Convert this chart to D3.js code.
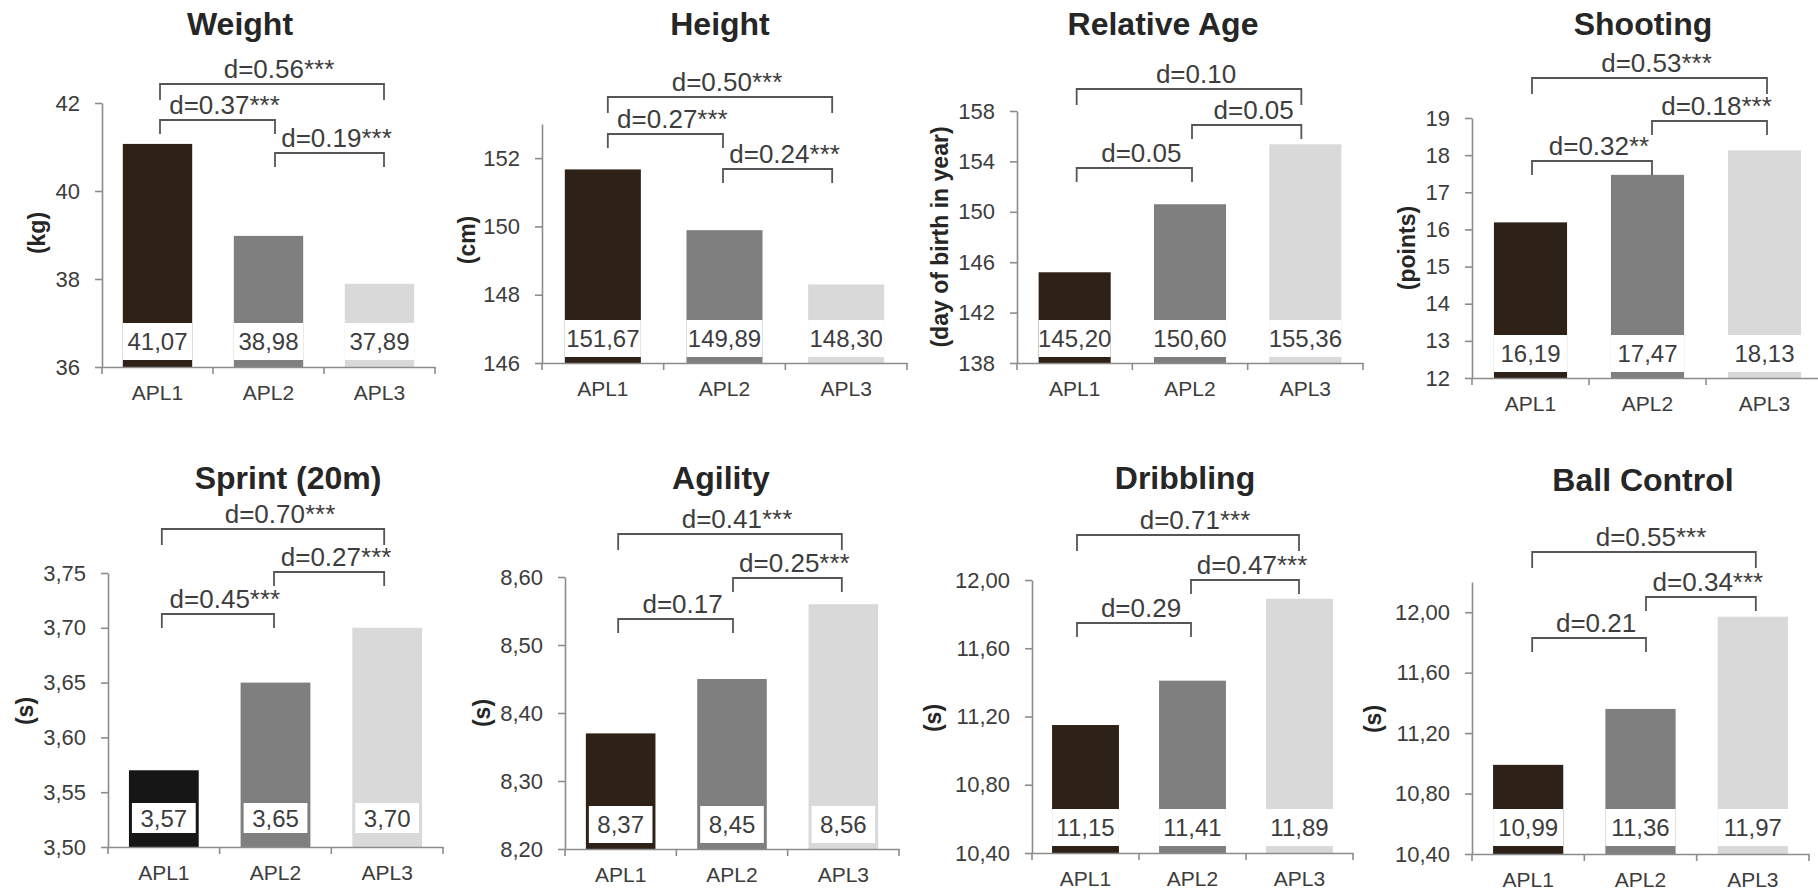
<!DOCTYPE html>
<html>
<head>
<meta charset="utf-8">
<script src="https://cdn.jsdelivr.net/npm/d3@7"></script>
<style>
  body { margin: 0; background: #fff; }
  svg text { font-family: "Liberation Sans", Arial, sans-serif; }
</style>
</head>
<body>
<div id="wrapper"></div>
<script>
// ---- data ----
const groups = ["APL1", "APL2", "APL3"];

const titles = ["Weight", "Height", "Relative Age", "Shooting",
                "Sprint (20m)", "Agility", "Dribbling", "Ball Control"];
const units = ["(kg)", "(cm)", "(day of birth in year)", "(points)",
               "(s)", "(s)", "(s)", "(s)"];

const weightValues = [41.07, 38.98, 37.89];
const heightValues = [151.67, 149.89, 148.30];
const relAgeValues = [145.20, 150.60, 155.36];
const shootingValues = [16.19, 17.47, 18.13];
const sprintValues = [3.57, 3.65, 3.70];
const agilityValues = [8.37, 8.45, 8.56];
const dribblingValues = [11.15, 11.41, 11.89];
const ballControlValues = [10.99, 11.36, 11.97];

const weightTicks = [36, 38, 40, 42];
const heightTicks = [146, 148, 150, 152];
const relAgeTicks = [138, 142, 146, 150, 154, 158];
const shootingTicks = [12, 13, 14, 15, 16, 17, 18, 19];
const sprintTicks = [3.50, 3.55, 3.60, 3.65, 3.70, 3.75];
const agilityTicks = [8.20, 8.30, 8.40, 8.50, 8.60];
const dribblingTicks = [10.40, 10.80, 11.20, 11.60, 12.00];
const ballControlTicks = [10.40, 10.80, 11.20, 11.60, 12.00];

const weightRange = [36, 42];
const heightRange = [146, 153];
const relAgeRange = [138, 158];
const shootingRange = [12, 19];
const sprintRange = [3.50, 3.75];
const agilityRange = [8.20, 8.60];
const dribblingRange = [10.40, 12.00];
const ballControlRange = [10.40, 12.20];

// effect sizes: [from group, to group, label]
const weightTests = [[0, 2, "d=0.56***"], [0, 1, "d=0.37***"], [1, 2, "d=0.19***"]];
const heightTests = [[0, 2, "d=0.50***"], [0, 1, "d=0.27***"], [1, 2, "d=0.24***"]];
const relAgeTests = [[0, 2, "d=0.10"], [1, 2, "d=0.05"], [0, 1, "d=0.05"]];
const shootingTests = [[0, 2, "d=0.53***"], [1, 2, "d=0.18***"], [0, 1, "d=0.32**"]];
const sprintTests = [[0, 2, "d=0.70***"], [1, 2, "d=0.27***"], [0, 1, "d=0.45***"]];
const agilityTests = [[0, 2, "d=0.41***"], [1, 2, "d=0.25***"], [0, 1, "d=0.17"]];
const dribblingTests = [[0, 2, "d=0.71***"], [1, 2, "d=0.47***"], [0, 1, "d=0.29"]];
const ballControlTests = [[0, 2, "d=0.55***"], [1, 2, "d=0.34***"], [0, 1, "d=0.21"]];

const panels = [
  {values: weightValues, ticks: weightTicks, range: weightRange, tests: weightTests, tickFmt: "d"},
  {values: heightValues, ticks: heightTicks, range: heightRange, tests: heightTests, tickFmt: "d"},
  {values: relAgeValues, ticks: relAgeTicks, range: relAgeRange, tests: relAgeTests, tickFmt: "d"},
  {values: shootingValues, ticks: shootingTicks, range: shootingRange, tests: shootingTests, tickFmt: "d"},
  {values: sprintValues, ticks: sprintTicks, range: sprintRange, tests: sprintTests, tickFmt: ".2f"},
  {values: agilityValues, ticks: agilityTicks, range: agilityRange, tests: agilityTests, tickFmt: ".2f"},
  {values: dribblingValues, ticks: dribblingTicks, range: dribblingRange, tests: dribblingTests, tickFmt: ".2f"},
  {values: ballControlValues, ticks: ballControlTicks, range: ballControlRange, tests: ballControlTests, tickFmt: ".2f"}
];

// ---- layout (pixels) ----
const layout = [
  {x0: 102, x1: 435, y0: 103, y1: 367, tx: 240, ty: 35, ux: 37, uy: 233,
   boxGap: 7, boxH: 37, inset: 0, br: [84, 120, 153], bx: [2.5, 6.5, 4.5]},
  {x0: 542, x1: 907, y0: 124, y1: 363, tx: 720, ty: 35, ux: 467, uy: 240,
   boxGap: 6, boxH: 37, inset: 0, br: [97, 134, 169], bx: [5, -1.5, -14]},
  {x0: 1017, x1: 1363, y0: 111, y1: 363, tx: 1163, ty: 35, ux: 940, uy: 237,
   boxGap: 6, boxH: 37, inset: 0, br: [89, 125, 168], bx: [2, 2, -4]},
  {x0: 1472, x1: 1823, y0: 118, y1: 378, tx: 1643, ty: 35, ux: 1407, uy: 248,
   boxGap: 6, boxH: 37, inset: 0, br: [78, 121, 161], bx: [1.5, 4.5, 2.5]},
  {x0: 108, x1: 443, y0: 573, y1: 847, tx: 288, ty: 489, ux: 25, uy: 711,
   boxGap: 14, boxH: 30, inset: 3, br: [529, 572, 614], bx: [-2, -1.5, -3], dark: "#161616"},
  {x0: 565, x1: 899, y0: 577, y1: 849, tx: 721, ty: 489, ux: 482, uy: 713,
   boxGap: 6, boxH: 37, inset: 3, br: [534, 578, 619], bx: [-2.5, 1, -1.5]},
  {x0: 1032, x1: 1353, y0: 580, y1: 853, tx: 1185, ty: 489, ux: 933, uy: 718,
   boxGap: 7, boxH: 37, inset: 0, br: [535, 580, 623], bx: [-8.5, -1.5, -0.5]},
  {x0: 1472, x1: 1809, y0: 582, y1: 854, tx: 1643, ty: 491, ux: 1373, uy: 719,
   boxGap: 8, boxH: 37, inset: 0, br: [552, 597, 638], bx: [4, 5.5, 3]}
];

const barColors = ["#2e2117", "#7f7f7f", "#d9d9d9"];
const textColor = "#3d3d3d";
const axisColor = "#8c8c8c";
const bracketColor = "#555555";

const locale = d3.formatLocale({decimal: ",", thousands: ".", grouping: [3], currency: ["", ""]});
const valueFmt = locale.format(".2f");

const svg = d3.select("#wrapper").append("svg")
  .attr("width", 1818)
  .attr("height", 893);

svg.append("rect").attr("width", 1818).attr("height", 893).attr("fill", "#fff");

panels.forEach((p, k) => {
  const L = layout[k];
  const g = svg.append("g");

  const x = d3.scaleBand()
    .domain(groups)
    .range([L.x0, L.x1])
    .paddingInner(0.375)
    .paddingOuter(0.1875);
  const y = d3.scaleLinear()
    .domain(p.range)
    .range([L.y1, L.y0]);
  const bw = x.bandwidth();
  const cx = i => x(groups[i]) + bw / 2;
  const color = i => (i === 0 && L.dark) ? L.dark : barColors[i];

  // bars
  g.selectAll(".bar").data(p.values).join("rect")
    .attr("class", "bar")
    .attr("x", (d, i) => x(groups[i]))
    .attr("width", bw)
    .attr("y", d => y(d))
    .attr("height", d => y(p.range[0]) - y(d))
    .attr("fill", (d, i) => color(i));

  // white label boxes
  const boxTop = L.y1 - L.boxGap - L.boxH;
  g.selectAll(".box").data(p.values).join("rect")
    .attr("class", "box")
    .attr("x", (d, i) => x(groups[i]) + L.inset)
    .attr("width", bw - 2 * L.inset)
    .attr("y", boxTop)
    .attr("height", L.boxH)
    .attr("fill", "#fff");

  g.selectAll(".val").data(p.values).join("text")
    .attr("class", "val")
    .attr("x", (d, i) => cx(i))
    .attr("y", boxTop + L.boxH / 2)
    .attr("dy", "0.36em")
    .attr("text-anchor", "middle")
    .attr("font-size", 24)
    .attr("fill", textColor)
    .text(d => valueFmt(d));

  // y axis
  const yAxis = g.append("g")
    .attr("transform", `translate(${L.x0},0)`)
    .call(d3.axisLeft(y)
      .tickValues(p.ticks)
      .tickSize(7)
      .tickSizeOuter(0)
      .tickPadding(15)
      .tickFormat(locale.format(p.tickFmt)));
  yAxis.selectAll("text").attr("font-size", 22);

  // x axis
  const xAxis = g.append("g")
    .attr("transform", `translate(0,${L.y1})`)
    .call(d3.axisBottom(x).tickSize(0).tickPadding(18));
  xAxis.selectAll("text").attr("font-size", 21);
  xAxis.selectAll(".sep").data(d3.range(4)).join("line")
    .attr("class", "sep")
    .attr("x1", i => L.x0 + i * x.step())
    .attr("x2", i => L.x0 + i * x.step())
    .attr("y1", 0)
    .attr("y2", 7);

  [yAxis, xAxis].forEach(a => {
    a.select(".domain").attr("stroke", axisColor).attr("stroke-width", 1.6);
    a.selectAll("line").attr("stroke", axisColor).attr("stroke-width", 1.6);
    a.selectAll("text")
      .attr("fill", textColor)
      .style("font-family", '"Liberation Sans", Arial, sans-serif');
  });

  // effect size brackets
  p.tests.forEach((t, j) => {
    const yb = L.br[j];
    const drop = j === 0 ? 16 : 14;
    const xa = cx(t[0]) + L.bx[t[0]];
    const xb = cx(t[1]) + L.bx[t[1]];
    g.append("path")
      .attr("d", `M${xa},${yb + drop}V${yb}H${xb}V${yb + drop}`)
      .attr("fill", "none")
      .attr("stroke", bracketColor)
      .attr("stroke-width", 1.8);
    g.append("text")
      .attr("x", (xa + xb) / 2 + 7)
      .attr("y", yb - 6)
      .attr("text-anchor", "middle")
      .attr("font-size", 26)
      .attr("fill", textColor)
      .text(t[2]);
  });

  // title
  g.append("text")
    .attr("x", L.tx)
    .attr("y", L.ty)
    .attr("text-anchor", "middle")
    .attr("font-size", 32)
    .attr("font-weight", "bold")
    .attr("fill", "#262626")
    .text(titles[k]);

  // unit label
  g.append("text")
    .attr("transform", `translate(${L.ux},${L.uy}) rotate(-90)`)
    .attr("dy", "0.35em")
    .attr("text-anchor", "middle")
    .attr("font-size", 23)
    .attr("font-weight", "bold")
    .attr("fill", "#262626")
    .text(units[k]);
});
</script>
</body>
</html>
